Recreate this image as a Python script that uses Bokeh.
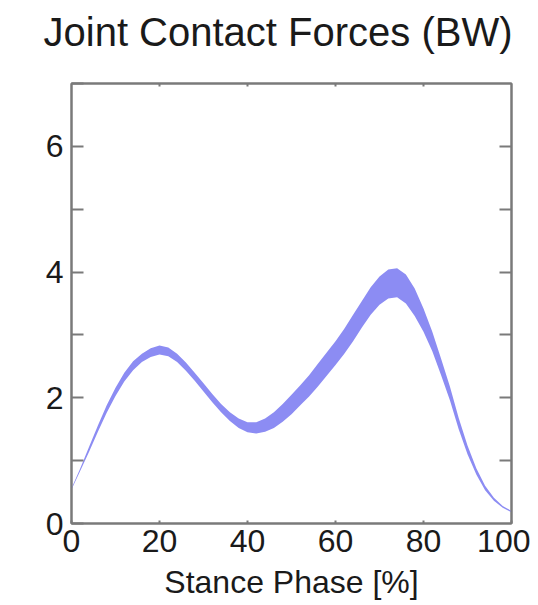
from bokeh.plotting import figure
from bokeh.models import Range1d, FixedTicker, LinearAxis, Title
from bokeh.embed import file_html
from bokeh.resources import INLINE

# Stance phase [%]
stance = [0, 2, 4, 6, 8, 10, 12, 14, 16, 18, 20, 22, 24, 26, 28, 30, 32, 34, 36, 38, 40,
          42, 44, 46, 48, 50, 52, 54, 56, 58, 60, 62, 64, 66, 68, 70, 72, 74, 76, 78, 80,
          82, 84, 86, 88, 90, 92, 94, 96, 98, 100]
# Upper bound of joint contact force band (BW)
force_upper = [0.56, 0.88, 1.22, 1.56, 1.88, 2.16, 2.40, 2.58, 2.70, 2.79, 2.83,
               2.80, 2.70, 2.56, 2.40, 2.23, 2.06, 1.90, 1.77, 1.67, 1.61,
               1.61, 1.67, 1.77, 1.90, 2.05, 2.20, 2.36, 2.54, 2.72, 2.90,
               3.10, 3.32, 3.54, 3.76, 3.93, 4.04, 4.06, 3.96, 3.74, 3.42,
               3.05, 2.62, 2.18, 1.68, 1.24, 0.88, 0.60, 0.41, 0.28, 0.20]
# Lower bound of joint contact force band (BW)
force_lower = [0.54, 0.84, 1.14, 1.46, 1.76, 2.03, 2.26, 2.44, 2.57, 2.65, 2.69,
               2.66, 2.57, 2.43, 2.27, 2.10, 1.93, 1.77, 1.63, 1.52, 1.45,
               1.43, 1.46, 1.52, 1.62, 1.74, 1.88, 2.02, 2.18, 2.35, 2.52,
               2.70, 2.90, 3.12, 3.32, 3.48, 3.58, 3.60, 3.50, 3.30, 3.05,
               2.74, 2.36, 1.96, 1.50, 1.10, 0.78, 0.53, 0.36, 0.25, 0.18]

x_ticks = [0, 20, 40, 60, 80, 100]
x_inner_ticks = [20, 40, 60, 80]
y_major_ticks = [0, 2, 4, 6]
y_minor_ticks = [1, 3, 5, 7]
y_all_ticks = [1, 2, 3, 4, 5, 6]

title_text = "Joint Contact Forces (BW)"
x_label_text = "Stance Phase [%]"

FONT = "Liberation Sans"
GREY = "#7a7a7a"
TEXT = "#1a1a1a"

p = figure(width=530, height=659, output_backend="svg", toolbar_location=None,
           x_range=Range1d(0, 100), y_range=Range1d(0, 7),
           x_axis_location=None, y_axis_location=None,
           min_border_left=71, min_border_right=19,
           min_border_top=140, min_border_bottom=78,
           styles={"position": "relative", "top": "-57px"})
p.grid.visible = False
p.outline_line_color = GREY
p.outline_line_width = 2
p.background_fill_color = "white"
p.border_fill_color = "white"

p.varea(x=stance, y1=force_lower, y2=force_upper, fill_color="#8c8cf3", fill_alpha=1.0)


def make_axis():
    ax = LinearAxis()
    ax.axis_line_color = GREY
    ax.axis_line_width = 2
    ax.major_tick_line_color = GREY
    ax.minor_tick_line_color = GREY
    ax.major_tick_line_width = 2
    ax.minor_tick_line_width = 2
    ax.major_tick_out = 0
    ax.minor_tick_out = 0
    ax.major_label_text_font = FONT
    ax.major_label_text_color = TEXT
    ax.major_label_text_font_size = "32px"
    return ax

# bottom
xb = make_axis()
xb.ticker = FixedTicker(ticks=x_ticks)
xb.major_tick_in = 3
xb.major_label_standoff = 6
xb.axis_label = x_label_text
xb.axis_label_text_font = FONT
xb.axis_label_text_font_size = "32px"
xb.axis_label_text_font_style = "normal"
xb.axis_label_text_color = TEXT
xb.axis_label_standoff = 9
p.add_layout(xb, "below")

# top (ticks only, no labels)
xt = make_axis()
xt.ticker = FixedTicker(ticks=[], minor_ticks=x_inner_ticks)
xt.minor_tick_in = 3
p.add_layout(xt, "above")

# left
yl = make_axis()
yl.ticker = FixedTicker(ticks=y_major_ticks, minor_ticks=y_minor_ticks)
yl.major_tick_in = 12
yl.minor_tick_in = 12
yl.major_label_standoff = 8
p.add_layout(yl, "left")

# right (ticks only, no labels)
yr = make_axis()
yr.ticker = FixedTicker(ticks=[], minor_ticks=y_all_ticks)
yr.minor_tick_in = 12
p.add_layout(yr, "right")

t = Title(text=title_text, align="left", offset=-28,
          text_font=FONT, text_font_size="40px", text_font_style="normal",
          text_color=TEXT, standoff=60)
p.add_layout(t, "above")

open("out.html", "w").write(file_html(p, INLINE))
